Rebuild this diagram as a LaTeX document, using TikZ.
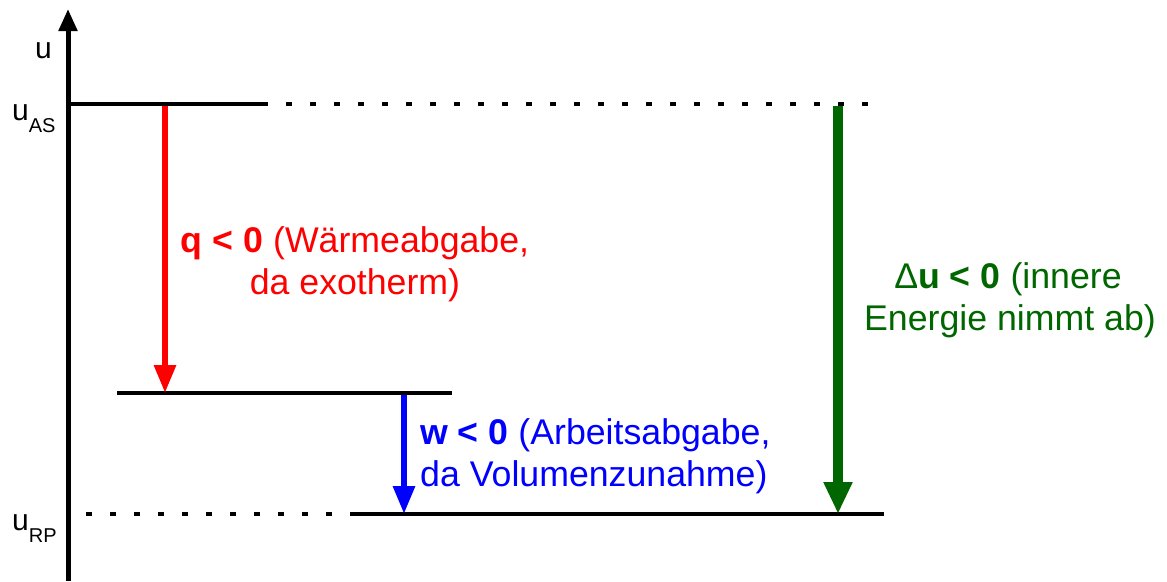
\documentclass[tikz,border=0pt]{standalone}
\usepackage{fontspec}
\setmainfont{Liberation Sans}
\usetikzlibrary{arrows.meta}
\definecolor{qred}{RGB}{255,0,0}
\definecolor{wblue}{RGB}{0,0,255}
\definecolor{ugreen}{RGB}{0,102,0}
\tikzset{
  lvl/.style={line width=4pt},
  dotlvl/.style={line width=4pt, dash pattern=on 6pt off 18pt},
  big/.style={font=\fontsize{35.7}{42}\selectfont, inner sep=0pt},
  axlab/.style={font=\fontsize{30}{30}\selectfont, inner sep=0pt, anchor=base west},
  thinarrow/.style={line width=6pt, -{Triangle[length=28pt,width=21pt]}},
  thickarrow/.style={line width=10pt, -{Triangle[length=32pt,width=27pt]}},
}
\newcommand{\subl}[1]{\raisebox{-12pt}{\fontsize{20}{20}\selectfont #1}}
\begin{document}
\begin{tikzpicture}[x=1pt,y=-1pt]
\useasboundingbox (0,0) rectangle (1167,581);
% axis
\coordinate (axbot) at (68,581);
\coordinate (axtop) at (68,9);
\draw[line width=5pt, -{Triangle[length=22pt,width=18pt]}] (axbot) -- (axtop);
\node[axlab] (ulab) at (35,58) {u};
\node[axlab] (uas) at (12,120) {u\subl{AS}};
\node[axlab] (urp) at (12,530) {u\subl{RP}};
% levels
\coordinate (as0) at (66,104);
\coordinate (as1) at (262,104);
\coordinate (as2) at (262,104);
\coordinate (as3) at (872,104);
\draw[lvl] (as0) -- (as1);
\draw[dotlvl] (as2) -- (as3);
\coordinate (mid0) at (117,393);
\coordinate (mid1) at (452,393);
\draw[lvl] (mid0) -- (mid1);
\coordinate (rp0) at (86,514);
\coordinate (rp1) at (356,514);
\coordinate (rp2) at (352,514);
\coordinate (rp3) at (884,514);
\draw[dotlvl] (rp0) -- (rp1);
\draw[lvl] (rp2) -- (rp3);
% arrows
\coordinate (qs) at (165,106);
\coordinate (qe) at (165,393);
\draw[thinarrow, qred] (qs) -- (qe);
\coordinate (ws) at (404,395);
\coordinate (we) at (404,514);
\draw[thinarrow, wblue] (ws) -- (we);
\coordinate (us) at (838,106);
\coordinate (ue) at (838,514);
\draw[thickarrow, ugreen] (us) -- (ue);
% labels
\node[big, anchor=base, text=qred] (q1) at (355,252) {\textbf{q < 0} (Wärmeabgabe,};
\node[big, anchor=base, text=qred] (q2) at (355,294) {da exotherm)};
\node[big, anchor=base west, text=wblue] (w1) at (420,444) {\textbf{w < 0} (Arbeitsabgabe,};
\node[big, anchor=base west, text=wblue] (w2) at (420,486) {da Volumenzunahme)};
\node[big, anchor=base, text=ugreen] (u1) at (1008,288) {Δ\textbf{u < 0} (innere};
\node[big, anchor=base, text=ugreen] (u2) at (1010,330) {Energie nimmt ab)};
\end{tikzpicture}
\end{document}
